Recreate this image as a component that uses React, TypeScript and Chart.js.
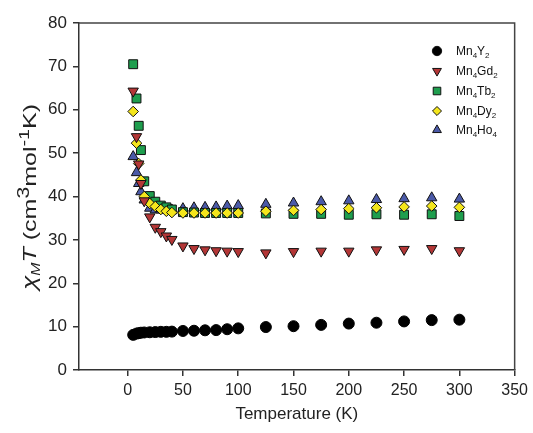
import React, { useEffect, useRef } from 'react';
import { Chart, registerables } from 'chart.js';

Chart.register(...registerables);

const temps = [5, 8, 10, 12, 15, 20, 25, 30, 35, 40, 50, 60, 70, 80, 90, 100, 125, 150, 175, 200, 225, 250, 275, 300];

const mn4y2 = [8.1, 8.4, 8.5, 8.6, 8.65, 8.7, 8.75, 8.8, 8.8, 8.85, 9.0, 9.05, 9.15, 9.2, 9.4, 9.6, 9.9, 10.1, 10.4, 10.7, 10.9, 11.2, 11.5, 11.6];
const mn4gd2 = [64.3, 53.8, 47.5, 43.0, 39.0, 35.3, 32.9, 31.9, 30.9, 30.1, 28.6, 28.0, 27.7, 27.5, 27.4, 27.3, 27.0, 27.3, 27.4, 27.4, 27.7, 27.8, 28.0, 27.5];
const mn4tb2 = [70.5, 62.6, 56.3, 50.7, 43.5, 40.1, 38.8, 37.9, 37.5, 37.0, 36.4, 36.3, 36.2, 36.2, 36.2, 36.2, 36.1, 36.0, 36.0, 35.8, 35.9, 35.8, 35.9, 35.5];
const mn4dy2 = [59.6, 52.3, 47.6, 43.8, 40.0, 38.4, 37.7, 37.0, 36.6, 36.3, 36.2, 36.2, 36.2, 36.2, 36.2, 36.2, 36.6, 36.8, 37.0, 37.2, 37.4, 37.6, 37.8, 37.5];
const mn4ho4 = [49.2, 45.5, 43.0, 41.1, 39.2, 37.3, 36.9, 36.9, 36.9, 36.9, 37.2, 37.4, 37.5, 37.6, 37.8, 37.9, 38.2, 38.5, 38.8, 39.0, 39.3, 39.5, 39.7, 39.4];

const xTicks = [0, 50, 100, 150, 200, 250, 300, 350];
const yTicks = [0, 10, 20, 30, 40, 50, 60, 70, 80];

const seriesNames = [
  ['Mn', '4', 'Y', '2'],
  ['Mn', '4', 'Gd', '2'],
  ['Mn', '4', 'Tb', '2'],
  ['Mn', '4', 'Dy', '2'],
  ['Mn', '4', 'Ho', '4'],
];

const FONT = '"Liberation Sans", Arial, sans-serif';

type Seg = { t: string; size: number; dy: number; italic?: boolean };

function measureRich(ctx: CanvasRenderingContext2D, segs: Seg[]) {
  let total = 0;
  for (const s of segs) {
    ctx.font = `${s.italic ? 'italic ' : ''}${s.size}px ${FONT}`;
    total += ctx.measureText(s.t).width;
  }
  return total;
}

function drawRich(ctx: CanvasRenderingContext2D, segs: Seg[], x: number, y: number, align: 'left' | 'center') {
  const total = measureRich(ctx, segs);
  let cx = align === 'center' ? x - total / 2 : x;
  ctx.textAlign = 'left';
  ctx.textBaseline = 'alphabetic';
  segs.forEach((s) => {
    ctx.font = `${s.italic ? 'italic ' : ''}${s.size}px ${FONT}`;
    ctx.fillText(s.t, cx, y + s.dy);
    cx += ctx.measureText(s.t).width;
  });
}

function drawMarker(ctx: CanvasRenderingContext2D, style: string, x: number, y: number, r: number, rot: number, fill: string) {
  ctx.save();
  ctx.fillStyle = fill;
  ctx.strokeStyle = '#111';
  ctx.lineWidth = 1;
  ctx.beginPath();
  if (style === 'circle') {
    ctx.arc(x, y, r, 0, Math.PI * 2);
  } else if (style === 'triangle') {
    let a = (rot * Math.PI) / 180;
    ctx.moveTo(x + Math.sin(a) * r, y - Math.cos(a) * r);
    a += (2 * Math.PI) / 3;
    ctx.lineTo(x + Math.sin(a) * r, y - Math.cos(a) * r);
    a += (2 * Math.PI) / 3;
    ctx.lineTo(x + Math.sin(a) * r, y - Math.cos(a) * r);
    ctx.closePath();
  } else if (style === 'rect') {
    const s = Math.SQRT1_2 * r;
    ctx.rect(x - s, y - s, 2 * s, 2 * s);
  } else if (style === 'rectRot') {
    ctx.moveTo(x, y - r);
    ctx.lineTo(x + r, y);
    ctx.lineTo(x, y + r);
    ctx.lineTo(x - r, y);
    ctx.closePath();
  }
  ctx.fill();
  ctx.stroke();
  ctx.restore();
}

const styles = [
  { style: 'circle', r: 5.5, rot: 0, fill: '#000000' },
  { style: 'triangle', r: 6, rot: 180, fill: '#b33636' },
  { style: 'rect', r: 6.3, rot: 0, fill: '#1e9e4e' },
  { style: 'rectRot', r: 5.3, rot: 0, fill: '#f4e61c' },
  { style: 'triangle', r: 6, rot: 0, fill: '#4b5aa8' },
];

const decorPlugin = {
  id: 'decor',
  afterDraw(chart: any) {
    const ctx: CanvasRenderingContext2D = chart.ctx;
    const a = chart.chartArea;
    ctx.save();
    ctx.strokeStyle = '#444';
    ctx.lineWidth = 1.5;
    ctx.beginPath();
    ctx.moveTo(a.left, a.top);
    ctx.lineTo(a.right, a.top);
    ctx.lineTo(a.right, a.bottom);
    ctx.stroke();

    ctx.fillStyle = '#222';
    drawRich(ctx, [{ t: 'Temperature (K)', size: 17, dy: 0 }], (a.left + a.right) / 2, 419, 'center');

    // y title, stretched along reading direction
    const ySegs: Seg[] = [
      { t: 'χ', size: 20, dy: 0, italic: true },
      { t: 'M', size: 12, dy: 4, italic: true },
      { t: 'T', size: 19, dy: 0, italic: true },
      { t: ' (cm', size: 19, dy: 0 },
      { t: '3', size: 16, dy: -7 },
      { t: 'mol', size: 19, dy: 0 },
      { t: '-1', size: 15, dy: -7 },
      { t: 'K)', size: 19, dy: 0 },
    ];
    const total = measureRich(ctx, ySegs);
    const target = 186;
    ctx.save();
    ctx.translate(36, 197);
    ctx.rotate(-Math.PI / 2);
    ctx.scale(target / total, 1);
    drawRich(ctx, ySegs, 0, 0, 'center');
    ctx.restore();

    // legend
    const rows = [51, 71, 91, 111, 130];
    seriesNames.forEach((n, i) => {
      const st = styles[i];
      drawMarker(ctx, st.style, 437, rows[i], st.r * 0.85, st.rot, st.fill);
      ctx.fillStyle = '#111';
      drawRich(
        ctx,
        [
          { t: n[0], size: 12, dy: 0 },
          { t: n[1], size: 8, dy: 3 },
          { t: n[2], size: 12, dy: 0 },
          { t: n[3], size: 8, dy: 3 },
        ],
        456,
        rows[i] + 4,
        'left'
      );
    });
    ctx.restore();
  },
};

export default function App() {
  const ref = useRef<HTMLCanvasElement | null>(null);
  useEffect(() => {
    if (!ref.current) return;
    const series = [mn4y2, mn4gd2, mn4tb2, mn4dy2, mn4ho4];
    const orders = [0, 1, 3, 2, 4];
    const chart = new Chart(ref.current, {
      type: 'scatter',
      data: {
        datasets: series.map((vals, i) => ({
          label: seriesNames[i].join(''),
          data: temps.map((t, k) => ({ x: t, y: vals[k] })),
          pointStyle: styles[i].style as any,
          pointRotation: styles[i].rot,
          pointRadius: styles[i].r,
          pointBackgroundColor: styles[i].fill,
          pointBorderColor: i === 0 ? '#000' : '#111',
          pointBorderWidth: 1,
          showLine: false,
          order: orders[i],
        })),
      },
      options: {
        animation: false,
        responsive: false,
        devicePixelRatio: 1,
        layout: { padding: { top: 23, right: 15, left: 0, bottom: 0 } },
        plugins: { legend: { display: false }, tooltip: { enabled: false } },
        scales: {
          x: {
            type: 'linear',
            min: -44,
            max: 350,
            afterBuildTicks: (scale: any) => {
              scale.ticks = xTicks.map((v) => ({ value: v }));
            },
            afterFit: (scale: any) => {
              scale.height = 63;
            },
            grid: { drawOnChartArea: false, drawTicks: true, tickLength: 6, color: '#333', lineWidth: 1.5 },
            border: { display: true, color: '#333', width: 1.5 },
            ticks: { color: '#222', font: { size: 16, family: FONT }, padding: 5, maxRotation: 0 },
          },
          y: {
            type: 'linear',
            min: 0,
            max: 80,
            afterBuildTicks: (scale: any) => {
              scale.ticks = yTicks.map((v) => ({ value: v }));
            },
            afterFit: (scale: any) => {
              scale.width = 79;
            },
            grid: { drawOnChartArea: false, drawTicks: true, tickLength: 6, color: '#333', lineWidth: 1.5 },
            border: { display: true, color: '#333', width: 1.5 },
            ticks: { color: '#222', font: { size: 17, family: FONT }, padding: 6 },
          },
        },
      },
      plugins: [decorPlugin],
    });
    return () => chart.destroy();
  }, []);
  return (
    <div style={{ position: 'fixed', left: 0, top: 0, width: 533, height: 433, background: '#fff' }}>
      <canvas ref={ref} width={533} height={433} style={{ width: 533, height: 433, display: 'block' }} />
    </div>
  );
}
